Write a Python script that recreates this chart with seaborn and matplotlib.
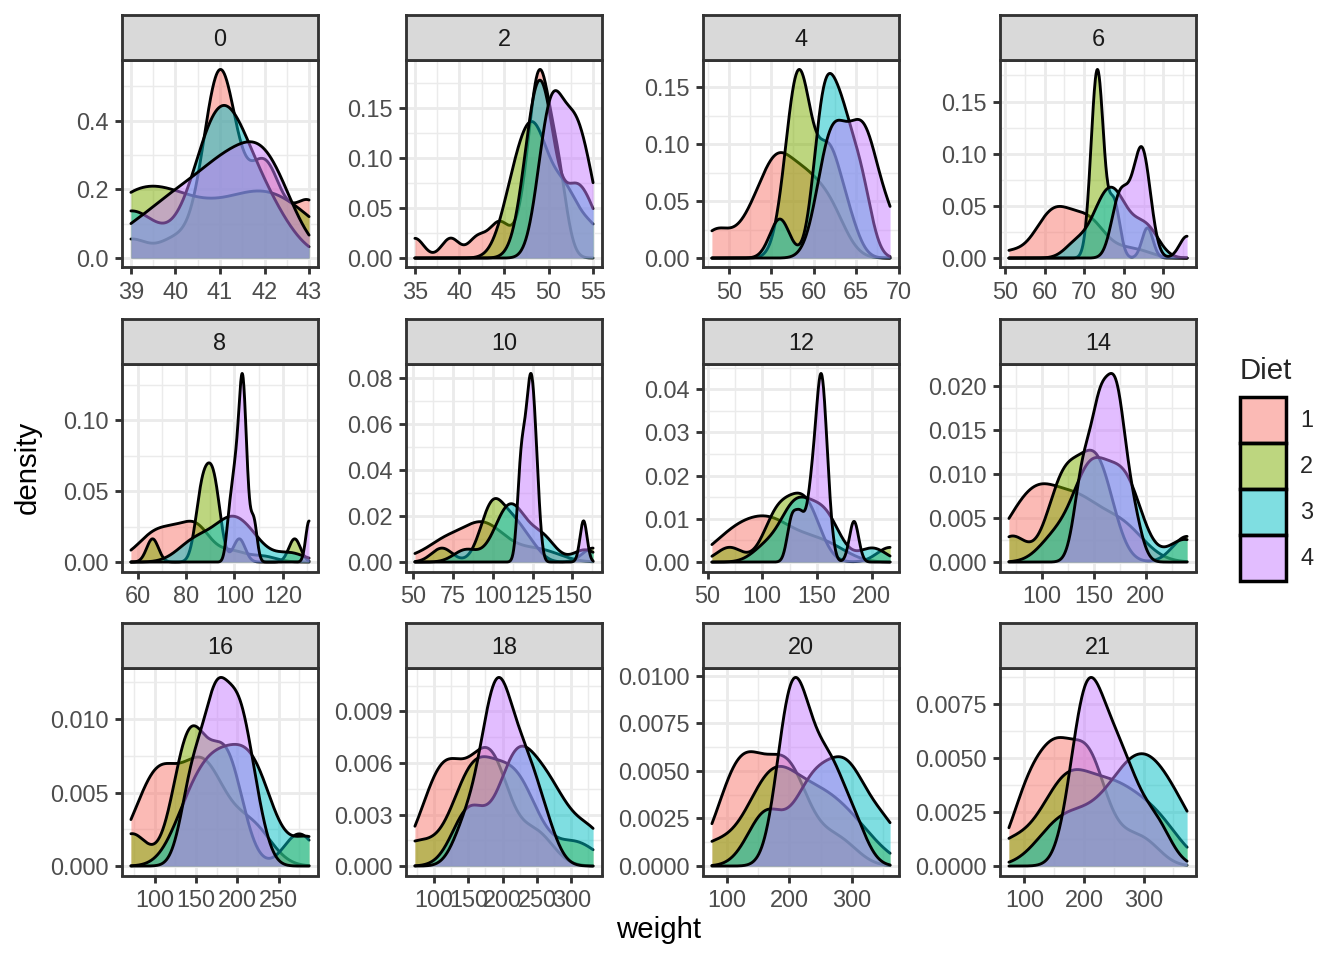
import numpy as np
import pandas as pd
import matplotlib
matplotlib.use("Agg")
import matplotlib.pyplot as plt
import seaborn as sns
from matplotlib.patches import Patch
from matplotlib.colors import to_rgba

# ---------------- data (ChickWeight: weight of each chick at successive times) -------------
times = [0, 2, 4, 6, 8, 10, 12, 14, 16, 18, 20, 21]

diet1_chicks = [
    [42, 51, 59, 64, 76, 93, 106, 125, 149, 171, 199, 205],
    [40, 49, 58, 72, 84, 103, 122, 138, 162, 187, 209, 215],
    [43, 39, 55, 67, 84, 99, 115, 138, 163, 187, 198, 202],
    [42, 49, 56, 67, 74, 87, 102, 108, 136, 154, 160, 157],
    [41, 42, 48, 60, 79, 106, 141, 164, 197, 199, 220, 223],
    [41, 49, 59, 74, 97, 124, 141, 148, 155, 160, 160, 157],
    [41, 49, 57, 71, 89, 112, 146, 174, 218, 250, 288, 305],
    [42, 50, 61, 71, 84, 93, 110, 116, 126, 134, 125],
    [42, 51, 59, 68, 85, 96, 90, 92, 93, 100, 100, 98],
    [41, 44, 52, 63, 74, 81, 89, 96, 101, 112, 120, 124],
    [43, 51, 63, 84, 112, 139, 168, 177, 182, 184, 181, 175],
    [41, 49, 56, 62, 72, 88, 119, 135, 162, 185, 195, 205],
    [41, 48, 53, 60, 65, 67, 71, 70, 71, 81, 91, 96],
    [41, 49, 62, 79, 101, 128, 164, 192, 227, 248, 259, 266],
    [41, 49, 56, 64, 68, 68, 67, 68],
    [41, 45, 49, 51, 57, 51, 54],
    [42, 51, 61, 72, 83, 89, 98, 103, 113, 123, 133, 142],
    [39, 35],
    [43, 48, 55, 62, 65, 71, 82, 88, 106, 120, 144, 157],
    [41, 47, 54, 58, 65, 73, 77, 89, 98, 107, 115, 117],
]
diet2_chicks = [
    [40, 50, 62, 86, 125, 163, 217, 240, 275, 307, 318, 331],
    [41, 55, 64, 77, 90, 95, 108, 111, 131, 148, 164, 167],
    [43, 52, 61, 73, 90, 103, 127, 135, 145, 163, 170, 175],
    [42, 52, 58, 74, 66, 68, 70, 71, 72, 72, 76, 74],
    [40, 49, 62, 78, 102, 124, 146, 164, 197, 231, 259, 265],
    [42, 48, 57, 74, 93, 114, 136, 147, 169, 205, 236, 251],
    [39, 46, 58, 73, 87, 100, 115, 123, 144, 163, 185, 192],
    [39, 46, 58, 73, 92, 114, 145, 156, 184, 207, 212, 233],
    [39, 48, 59, 74, 87, 106, 134, 150, 187, 230, 279, 309],
    [42, 48, 59, 72, 85, 98, 115, 122, 143, 151, 157, 150],
]
diet3_chicks = [
    [42, 53, 62, 73, 85, 102, 123, 138, 170, 204, 235, 256],
    [41, 49, 65, 82, 107, 129, 159, 179, 221, 263, 291, 305],
    [39, 50, 63, 77, 96, 111, 137, 144, 151, 146, 156, 147],
    [41, 49, 63, 85, 107, 134, 164, 186, 235, 294, 327, 341],
    [41, 53, 64, 87, 123, 158, 201, 238, 287, 332, 361, 373],
    [39, 48, 61, 76, 98, 116, 145, 166, 198, 227, 225, 220],
    [41, 48, 56, 68, 80, 83, 103, 112, 135, 157, 169, 178],
    [41, 49, 61, 74, 98, 109, 128, 154, 192, 232, 280, 290],
    [42, 50, 61, 78, 89, 109, 130, 146, 170, 214, 250, 272],
    [41, 55, 66, 79, 101, 120, 154, 182, 215, 262, 295, 321],
]
diet4_chicks = [
    [42, 51, 66, 85, 103, 124, 155, 153, 175, 184, 199, 204],
    [42, 49, 63, 84, 103, 126, 160, 174, 204, 234, 269, 281],
    [42, 55, 69, 96, 131, 157, 184, 188, 197, 198, 199, 200],
    [42, 51, 65, 86, 103, 118, 127, 138, 145, 146],
    [41, 50, 61, 78, 98, 117, 135, 141, 147, 174, 197, 196],
    [40, 52, 62, 82, 101, 120, 144, 156, 173, 210, 231, 238],
    [41, 53, 66, 79, 100, 123, 148, 157, 168, 185, 210, 205],
    [39, 50, 62, 80, 104, 125, 154, 170, 222, 261, 303, 322],
    [40, 53, 64, 85, 108, 128, 152, 166, 184, 203, 233, 237],
    [41, 54, 67, 84, 105, 122, 155, 175, 205, 234, 264, 264],
]

diets = ["1", "2", "3", "4"]
diet_colors = ["#F8766D", "#7CAE00", "#00BFC4", "#C77CFF"]

x_ticks = [
    [39, 40, 41, 42, 43],
    [35, 40, 45, 50, 55],
    [50, 55, 60, 65, 70],
    [50, 60, 70, 80, 90],
    [60, 80, 100, 120],
    [50, 75, 100, 125, 150],
    [50, 100, 150, 200],
    [100, 150, 200],
    [100, 150, 200, 250],
    [100, 150, 200, 250, 300],
    [100, 200, 300],
    [100, 200, 300],
]
y_tick_labels = [
    ["0.0", "0.2", "0.4"],
    ["0.00", "0.05", "0.10", "0.15"],
    ["0.00", "0.05", "0.10", "0.15"],
    ["0.00", "0.05", "0.10", "0.15"],
    ["0.00", "0.05", "0.10"],
    ["0.00", "0.02", "0.04", "0.06", "0.08"],
    ["0.00", "0.01", "0.02", "0.03", "0.04"],
    ["0.000", "0.005", "0.010", "0.015", "0.020"],
    ["0.000", "0.005", "0.010"],
    ["0.000", "0.003", "0.006", "0.009"],
    ["0.0000", "0.0025", "0.0050", "0.0075", "0.0100"],
    ["0.0000", "0.0025", "0.0050", "0.0075"],
]

# ---------------- long table --------------------------------------------------------------
rows = []
for diet, chicks in zip(diets, [diet1_chicks, diet2_chicks, diet3_chicks, diet4_chicks]):
    for ws in chicks:
        for t, w in zip(times, ws):
            rows.append({"Time": t, "Diet": diet, "weight": w})
df = pd.DataFrame(rows)


def bw_nrd0(x):
    x = np.asarray(x, float)
    hi = np.std(x, ddof=1)
    q75, q25 = np.percentile(x, [75, 25])
    lo = min(hi, (q75 - q25) / 1.34)
    if not lo:
        lo = hi or abs(x[0]) or 1.0
    return 0.9 * lo * len(x) ** (-0.2)


def r_bandwidth(kde):
    d = kde.dataset[0]
    return bw_nrd0(d) / np.std(d, ddof=1)


def minor_breaks(major, lo, hi):
    major = list(major)
    step = major[1] - major[0]
    ext = [major[0] - step] + major + [major[-1] + step]
    mids = [(a + b) / 2 for a, b in zip(ext[:-1], ext[1:])]
    return [m for m in mids if lo <= m <= hi]


# ---------------- figure -----------------------------------------------------------------
sns.set_style("white")
plt.rcParams["font.family"] = ["Liberation Sans", "DejaVu Sans"]

W, H = 1344, 960
fig = plt.figure(figsize=(7, 5), dpi=192)

col_left = [122, 406, 703, 1000]
panel_w = 196
strip_top = [15, 319, 623]
strip_h = 45
panel_h = 207.5

LW = 1.07
GRAY20 = "#333333"
GRAY30 = "#4D4D4D"
GRID = "#EBEBEB"


def fig_rect(x0, y0, w, h):
    return [x0 / W, 1 - (y0 + h) / H, w / W, h / H]


for i, t in enumerate(times):
    r, c = divmod(i, 4)
    x0 = col_left[c]
    ytop = strip_top[r] + strip_h
    ax = fig.add_axes(fig_rect(x0, ytop, panel_w, panel_h))
    sub = df[df["Time"] == t]
    xmin, xmax = sub["weight"].min(), sub["weight"].max()

    for diet, col in zip(diets, diet_colors):
        d = sub[sub["Diet"] == diet]
        sns.kdeplot(data=d, x="weight", ax=ax, fill=True, color=col, alpha=0.5,
                    linewidth=0, bw_method=r_bandwidth, cut=1e4, clip=(xmin, xmax),
                    gridsize=512, zorder=3)
        sns.kdeplot(data=d, x="weight", ax=ax, fill=False, color="black",
                    linewidth=LW, bw_method=r_bandwidth, cut=1e4, clip=(xmin, xmax),
                    gridsize=512, zorder=3)

    ymax = max(line.get_ydata().max() for line in ax.lines)
    xr = xmax - xmin
    xlo, xhi = xmin - 0.05 * xr, xmax + 0.05 * xr
    ylo, yhi = -0.05 * ymax, 1.05 * ymax
    ax.set_xlim(xlo, xhi)
    ax.set_ylim(ylo, yhi)

    yt = [float(s) for s in y_tick_labels[i]]
    ax.set_xticks(x_ticks[i])
    ax.set_xticklabels([str(v) for v in x_ticks[i]])
    ax.set_yticks(yt)
    ax.set_yticklabels(y_tick_labels[i])
    ax.set_xticks(minor_breaks(x_ticks[i], xlo, xhi), minor=True)
    ax.set_yticks(minor_breaks(yt, ylo, yhi), minor=True)
    ax.grid(which="major", color=GRID, linewidth=LW, zorder=0)
    ax.grid(which="minor", color=GRID, linewidth=LW / 2, zorder=0)
    ax.set_axisbelow(True)
    ax.set_xlabel("")
    ax.set_ylabel("")
    ax.tick_params(which="major", length=2.75, width=LW, color=GRAY20,
                   labelsize=8.8, labelcolor=GRAY30, pad=2.2,
                   bottom=True, left=True)
    ax.tick_params(which="minor", length=0)
    for sp in ax.spines.values():
        sp.set_visible(True)
        sp.set_color(GRAY20)
        sp.set_linewidth(LW)
        sp.set_zorder(5)

    sax = fig.add_axes(fig_rect(x0, strip_top[r], panel_w, strip_h))
    sax.set_facecolor("#D9D9D9")
    sax.set_xticks([])
    sax.set_yticks([])
    for sp in sax.spines.values():
        sp.set_visible(True)
        sp.set_color(GRAY20)
        sp.set_linewidth(LW)
    sax.text(0.5, 0.5, str(t), ha="center", va="center_baseline", fontsize=8.8,
             color="#1A1A1A", transform=sax.transAxes)

fig.text(28 / W, 1 - 467.5 / H, "density", rotation=90, ha="center", va="center",
         fontsize=11, color="black")
fig.text(659 / W, 1 - 930 / H, "weight", ha="center", va="center",
         fontsize=11, color="black")

handles = [Patch(facecolor=to_rgba(c, 0.5), edgecolor="black", linewidth=1.3)
           for c in diet_colors]
leg = fig.legend(handles, diets, title="Diet", loc="upper left",
                 bbox_to_anchor=(1240 / W, 1 - 357 / H), frameon=False,
                 fontsize=8.8, title_fontsize=11, handlelength=1.96,
                 handleheight=2.64, handletextpad=0.6, labelspacing=0.0,
                 borderpad=0, borderaxespad=0, alignment="left")
leg._legend_box.sep = 4.4

fig.savefig("out.png", dpi=192)
